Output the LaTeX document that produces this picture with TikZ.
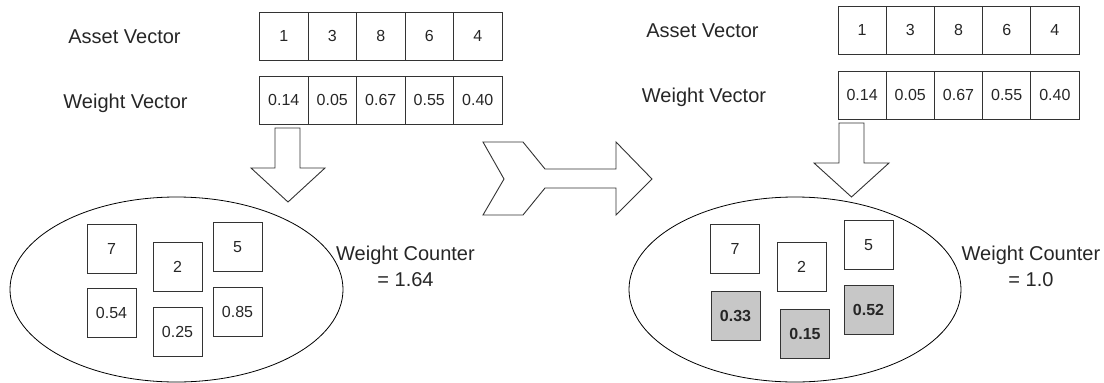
\documentclass[tikz,border=0pt]{standalone}
\usepackage{fontspec}
\setmainfont{Liberation Sans}
\usetikzlibrary{shapes.geometric}
\begin{document}
\begin{tikzpicture}[x=1pt,y=-1pt,
  line/.style={draw=black!80, line width=0.9pt},
  cell/.style={line, minimum width=48.5pt, minimum height=48pt, inner sep=0pt, text=black!85, font=\fontsize{16}{19}\selectfont},
  item/.style={line, minimum width=49pt, minimum height=49pt, inner sep=0pt, text=black!85, font=\fontsize{16}{19}\selectfont},
  hit/.style={item, fill=black!22, font=\fontsize{16}{19}\selectfont\bfseries},
  lbl/.style={font=\fontsize{20}{26}\selectfont, inner sep=0pt, text=black!85},
  oval/.style={line, draw=black, line width=0.8pt, ellipse, inner sep=0pt},
  blockarrow/.style={line, fill=white, line join=miter},
]
\useasboundingbox (0,0) rectangle (1104,383);

% ---------- left panel ----------
\node[lbl, anchor=base] (lav) at (124.5,43) {Asset Vector};
\node[lbl, anchor=base] (lwv) at (125.5,108) {Weight Vector};
\foreach \v [count=\i from 0] in {1,3,8,6,4}
  \node[cell] (la\i) at ({283.75+48.5*\i},36) {\v};
\foreach \v [count=\i from 0] in {0.14,0.05,0.67,0.55,0.40}
  \node[cell] (lw\i) at ({283.75+48.5*\i},100) {\v};

\draw[blockarrow] (275,128) -- (300,128) -- (300,168) -- (325,168) -- (288,202)
  -- (251,168) -- (275,168) -- cycle;

\node[oval, minimum width=333pt, minimum height=185pt] (lset) at (176.5,289.5) {};
\node[item] (l7) at (111.5,248.5) {7};
\node[item] (l054) at (111.5,313) {0.54};
\node[item] (l2) at (177.5,267) {2};
\node[item] (l025) at (177.5,331.5) {0.25};
\node[item] (l5) at (237.5,247) {5};
\node[item] (l085) at (237.5,311.5) {0.85};
\node[lbl, align=center] (lwc) at (405.5,266) {Weight Counter\\= 1.64};

% ---------- middle arrow ----------
\draw[blockarrow] (483,142) -- (523,142) -- (545,169) -- (616,169) -- (616,142)
  -- (652,179) -- (616,215) -- (616,188) -- (545,188) -- (523,215) -- (483,215)
  -- (504,179) -- cycle;

% ---------- right panel ----------
\node[lbl, anchor=base] (rav) at (702.5,37) {Asset Vector};
\node[lbl, anchor=base] (rwv) at (704,102) {Weight Vector};
\foreach \v [count=\i from 0] in {1,3,8,6,4}
  \node[cell, minimum width=48.2pt] (ra\i) at ({862.1+48.2*\i},30) {\v};
\foreach \v [count=\i from 0] in {0.14,0.05,0.67,0.55,0.40}
  \node[cell, minimum width=48.2pt] (rw\i) at ({862.1+48.2*\i},95) {\v};

\draw[blockarrow] (839,123) -- (864,123) -- (864,163) -- (889,163) -- (851.5,197)
  -- (814,163) -- (839,163) -- cycle;

\node[oval, minimum width=332pt, minimum height=185pt] (rset) at (795,289.5) {};
\node[item] (r7) at (735,248.5) {7};
\node[hit] (r033) at (735.5,316) {0.33};
\node[item] (r2) at (801.5,267) {2};
\node[hit] (r015) at (805,334) {0.15};
\node[item] (r5) at (868.5,245) {5};
\node[hit] (r052) at (868.5,309.5) {0.52};
\node[lbl, align=center] (rwc) at (1031,266) {Weight Counter\\= 1.0};
\end{tikzpicture}
\end{document}
